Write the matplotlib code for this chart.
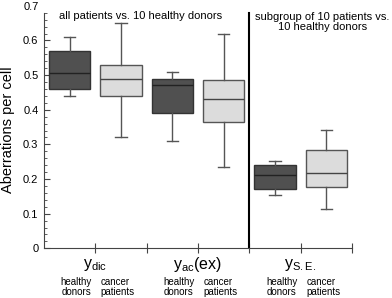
import numpy as np
import matplotlib
matplotlib.use("Agg")
import matplotlib.pyplot as plt
from matplotlib.ticker import FixedLocator

plt.rcParams['font.family'] = ['Liberation Sans', 'DejaVu Sans']
plt.rcParams['mathtext.default'] = 'regular'

# box statistics: (low whisker, q1, median, q3, high whisker)
groups = ['healthy donors', 'cancer patients'] * 3
low_whisker = [0.44, 0.322, 0.311, 0.234, 0.153, 0.112]
q1 = [0.46, 0.44, 0.391, 0.366, 0.172, 0.177]
median = [0.505, 0.489, 0.47, 0.431, 0.212, 0.216]
q3 = [0.569, 0.53, 0.489, 0.485, 0.241, 0.283]
high_whisker = [0.609, 0.649, 0.51, 0.62, 0.252, 0.341]

measures = [r'$y_{dic}$', r'$y_{ac}$(ex)', r'$y_{S.E.}$']
yticks = [0, 0.1, 0.2, 0.3, 0.4, 0.5, 0.6, 0.7]
ytick_labels = ['0', '0.1', '0.2', '0.3', '0.4', '0.5', '0.6', '0.7']

dark = '#505050'
light = '#dcdcdc'
edge = '#333333'

fig = plt.figure(figsize=(3.92, 2.98), dpi=100)
ax = fig.add_axes([0.1122, 0.1668, 0.7857, 0.8137])

stats = []
for i in range(len(groups)):
    stats.append({'whislo': low_whisker[i], 'q1': q1[i], 'med': median[i],
                  'q3': q3[i], 'whishi': high_whisker[i], 'fliers': []})

positions = np.arange(len(stats)) + 0.5
bp = ax.bxp(stats, positions=positions, widths=0.8, capwidths=0.22,
            patch_artist=True, manage_ticks=False,
            boxprops=dict(edgecolor=edge, linewidth=1.0),
            whiskerprops=dict(color='#555555', linewidth=1.0),
            capprops=dict(color='#555555', linewidth=1.0),
            medianprops=dict(color='#222222', linewidth=1.0))
for i, box in enumerate(bp['boxes']):
    box.set_facecolor(dark if i % 2 == 0 else light)
    if i % 2 == 1:
        box.set_edgecolor('#555555')
        bp['medians'][i].set_color('#444444')

ax.set_xlim(0, 6)
ax.set_ylim(0, 0.7)
ax.spines['top'].set_visible(False)
ax.spines['right'].set_visible(False)
ax.spines['left'].set_bounds(0, 0.68)
for s in ['left', 'bottom']:
    ax.spines[s].set_color('#444444')
    ax.spines[s].set_linewidth(0.8)

ax.set_yticks(yticks)
ax.set_yticklabels(ytick_labels, fontsize=8)
ax.yaxis.set_minor_locator(FixedLocator(np.arange(0.02, 0.69, 0.02)))
ax.tick_params(axis='y', which='major', direction='in', length=4, color='#444444', width=0.8, pad=4)
ax.tick_params(axis='y', which='minor', direction='in', length=2, color='#444444', width=0.6)
ax.yaxis.get_major_ticks()[-1].tick1line.set_visible(False)

ax.set_xticks([1, 2, 3, 4, 5, 6])
ax.set_xticklabels([])
ax.tick_params(axis='x', direction='inout', length=7, color='#444444', width=0.8)

ax.set_ylabel('Aberrations per cell', fontsize=10.5)
ax.yaxis.set_label_coords(-0.093, 0.49)

ax.axvline(4, ymin=0, ymax=0.68 / 0.7, color='black', linewidth=1.5)

ax.text(0.29, 0.67, 'all patients vs. 10 healthy donors', fontsize=8, va='center', ha='left')
ax.text(5.42, 0.653, 'subgroup of 10 patients vs.\n10 healthy donors', fontsize=8,
        va='center', ha='center', linespacing=1.05)

for k, m in enumerate(measures):
    xc = 2 * k + 1
    ax.text(xc, -0.047, m, fontsize=11.5, ha='center', va='center', clip_on=False)
    ax.text(xc - 0.37, -0.113, 'healthy\ndonors', fontsize=7, ha='center', va='center',
            linespacing=1.0, clip_on=False)
    ax.text(xc + 0.44, -0.113, 'cancer\npatients', fontsize=7, ha='center', va='center',
            linespacing=1.0, clip_on=False, multialignment='left')

fig.savefig('out.png', dpi=100)
